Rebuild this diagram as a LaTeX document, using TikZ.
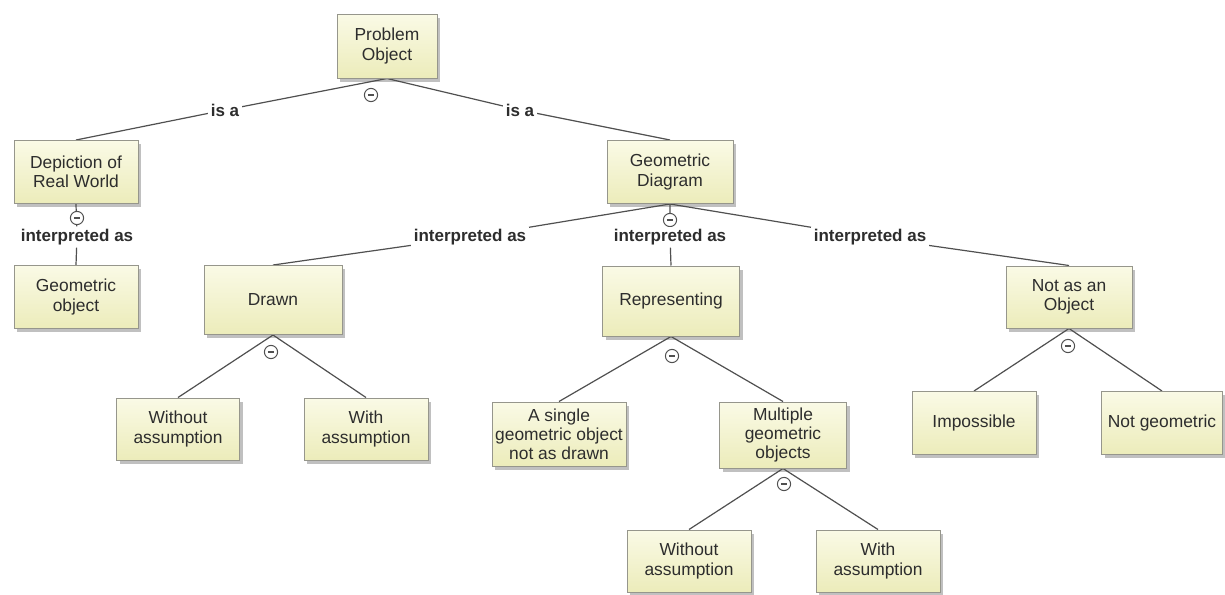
\documentclass[tikz,border=0pt]{standalone}
\usepackage{fontspec}
\setmainfont{Liberation Sans}
\usetikzlibrary{shadows}
\pgfdeclarelayer{bg}
\pgfdeclarelayer{fg}
\pgfsetlayers{bg,main,fg}
\definecolor{boxtop}{RGB}{250,250,230}
\definecolor{boxbot}{RGB}{236,236,186}
\definecolor{boxline}{RGB}{150,150,140}
\definecolor{txt}{RGB}{45,45,45}
\definecolor{conn}{RGB}{80,80,80}
\tikzset{
  box/.style={draw=boxline, line width=0.5pt, top color=boxtop, bottom color=boxbot,
    align=center, inner sep=1pt, text=txt,
    font=\fontsize{8.7}{9.6}\selectfont,
    drop shadow={shadow xshift=1.6pt, shadow yshift=-1.8pt, opacity=0.35, fill=black!70}},
  lbl/.style={font=\fontsize{8.5}{9.6}\selectfont\bfseries, text=txt, inner sep=1.2pt, fill=white},
  conn/.style={draw=conn, line width=0.6pt},
  minus/.style={circle, draw=conn, fill=white, line width=0.5pt, minimum size=6.6pt, inner sep=0pt,
    path picture={\draw[conn, line width=0.6pt] ([xshift=-1.6pt]path picture bounding box.center) -- ([xshift=1.6pt]path picture bounding box.center);}}
}
\begin{document}
\begin{tikzpicture}[x=0.5pt,y=-0.5pt]
\begin{pgfonlayer}{bg}
\fill[white] (0,0) rectangle (1225,594);
\end{pgfonlayer}
\useasboundingbox (0,0) rectangle (1225,594);
% nodes
\node[box, minimum width=50pt, minimum height=32pt] (po) at (387,46) {Problem\\Object};
\node[box, minimum width=62pt, minimum height=31.5pt] (dep) at (76,172) {Depiction of\\Real World};
\node[box, minimum width=62pt, minimum height=31.5pt] (gobj) at (76,297) {Geometric\\object};
\node[box, minimum width=63pt, minimum height=31.5pt] (gd) at (670,172) {Geometric\\Diagram};
\node[box, minimum width=69pt, minimum height=34.5pt] (drawn) at (273,300) {Drawn};
\node[box, minimum width=68.5pt, minimum height=35pt] (rep) at (671,301) {Representing};
\node[box, minimum width=63pt, minimum height=31pt] (nao) at (1069,297) {Not as an\\Object};
\node[box, minimum width=61.5pt, minimum height=31pt] (wo1) at (178,429) {Without\\assumption};
\node[box, minimum width=62pt, minimum height=31pt] (w1) at (366,429) {With\\assumption};
\node[box, minimum width=67pt, minimum height=32pt] (single) at (559,434) {A single\\geometric object\\not as drawn};
\node[box, minimum width=63.5pt, minimum height=33pt] (mult) at (783,435) {Multiple\\geometric\\objects};
\node[box, minimum width=62pt, minimum height=31pt] (wo2) at (689,561) {Without\\assumption};
\node[box, minimum width=62pt, minimum height=31pt] (w2) at (878,561) {With\\assumption};
\node[box, minimum width=62pt, minimum height=31.5pt] (imp) at (974,423) {Impossible};
\node[box, minimum width=60.5pt, minimum height=31.5pt] (ng) at (1162,423) {Not geometric};
% minus markers
\node[minus] (m0) at (371,95) {};
\node[minus] (m1) at (77,218) {};
\node[minus] (m2) at (670,220) {};
\node[minus] (m3) at (271,352) {};
\node[minus] (m4) at (672,356) {};
\node[minus] (m5) at (784,484) {};
\node[minus] (m6) at (1068,346) {};
% labels (drawn above markers)
\begin{pgfonlayer}{fg}
\node[lbl] (isa1) at (225,110) {is a};
\node[lbl] (isa2) at (520,110) {is a};
\node[lbl] (ia0) at (77,237) {interpreted as};
\node[lbl] (ia1) at (470,237) {interpreted as};
\node[lbl] (ia2) at (670,237) {interpreted as};
\node[lbl] (ia3) at (870,237) {interpreted as};
\end{pgfonlayer}
% connectors
\begin{pgfonlayer}{bg}
\draw[conn] (po.south) -- (isa1) -- (dep.north);
\draw[conn] (po.south) -- (isa2) -- (gd.north);
\draw[conn] (dep.south) -- (ia0) -- (gobj.north);
\draw[conn] (gd.south) -- (ia1) -- (drawn.north);
\draw[conn] (gd.south) -- (ia2) -- (rep.north);
\draw[conn] (gd.south) -- (ia3) -- (nao.north);
\draw[conn] (drawn.south) -- (wo1.north);
\draw[conn] (drawn.south) -- (w1.north);
\draw[conn] (rep.south) -- (single.north);
\draw[conn] (rep.south) -- (mult.north);
\draw[conn] (mult.south) -- (wo2.north);
\draw[conn] (mult.south) -- (w2.north);
\draw[conn] (nao.south) -- (imp.north);
\draw[conn] (nao.south) -- (ng.north);
\end{pgfonlayer}
\end{tikzpicture}
\end{document}
